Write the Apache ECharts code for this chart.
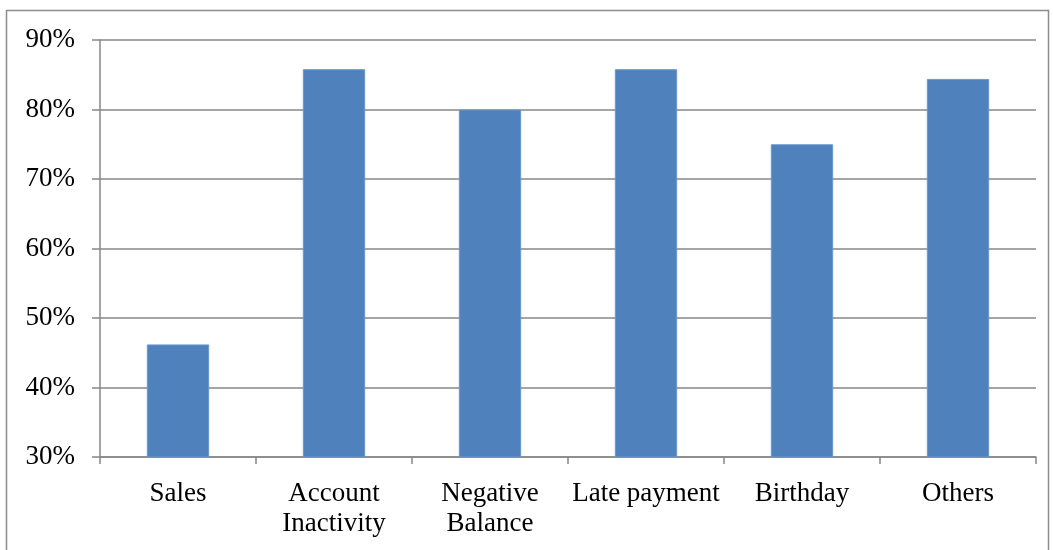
<!DOCTYPE html>
<html>
<head>
<meta charset="utf-8">
<script src="https://cdn.jsdelivr.net/npm/echarts@6/dist/echarts.min.js"></script>
<style>
html,body{margin:0;padding:0;background:#fff;}
#chart{width:1053px;height:550px;}
</style>
</head>
<body>
<div id="chart"></div>
<script>
const categories = ['Sales', 'Account\nInactivity', 'Negative\nBalance', 'Late payment', 'Birthday', 'Others'];
const values = [46.2, 85.8, 80.0, 85.8, 75.0, 84.4];
const yTicks = [30, 40, 50, 60, 70, 80, 90];

const chart = echarts.init(document.getElementById('chart'));
const font = '"Liberation Serif", serif';
chart.setOption({
  animation: false,
  backgroundColor: '#fff',
  graphic: [{
    type: 'rect',
    shape: {x: 6.5, y: 10.5, width: 1042, height: 600},
    style: {fill: 'none', stroke: '#8c8c8c', lineWidth: 1.5},
    silent: true
  }],
  grid: {left: 100, top: 40, right: 17, bottom: 93, containLabel: false},
  xAxis: {
    type: 'category',
    data: categories,
    axisLine: {lineStyle: {color: '#878787', width: 1.5}},
    axisTick: {show: true, length: 7, alignWithLabel: false, lineStyle: {color: '#878787', width: 1.5}},
    axisLabel: {color: '#000', fontFamily: font, fontSize: 27, lineHeight: 30, margin: 22, interval: 0}
  },
  yAxis: {
    type: 'value',
    min: yTicks[0],
    max: yTicks[yTicks.length - 1],
    interval: 10,
    axisLine: {show: true, lineStyle: {color: '#878787', width: 1.5}},
    axisTick: {show: true, length: 8, lineStyle: {color: '#878787', width: 1.5}},
    splitLine: {show: true, lineStyle: {color: '#878787', width: 1.5}},
    axisLabel: {color: '#000', fontFamily: font, fontSize: 27, margin: 25, formatter: v => v + '%'}
  },
  series: [{
    type: 'bar',
    data: values,
    barWidth: '40%',
    itemStyle: {color: '#4F81BD', borderColor: '#6d98cc', borderWidth: 1}
  }]
});
</script>
</body>
</html>
